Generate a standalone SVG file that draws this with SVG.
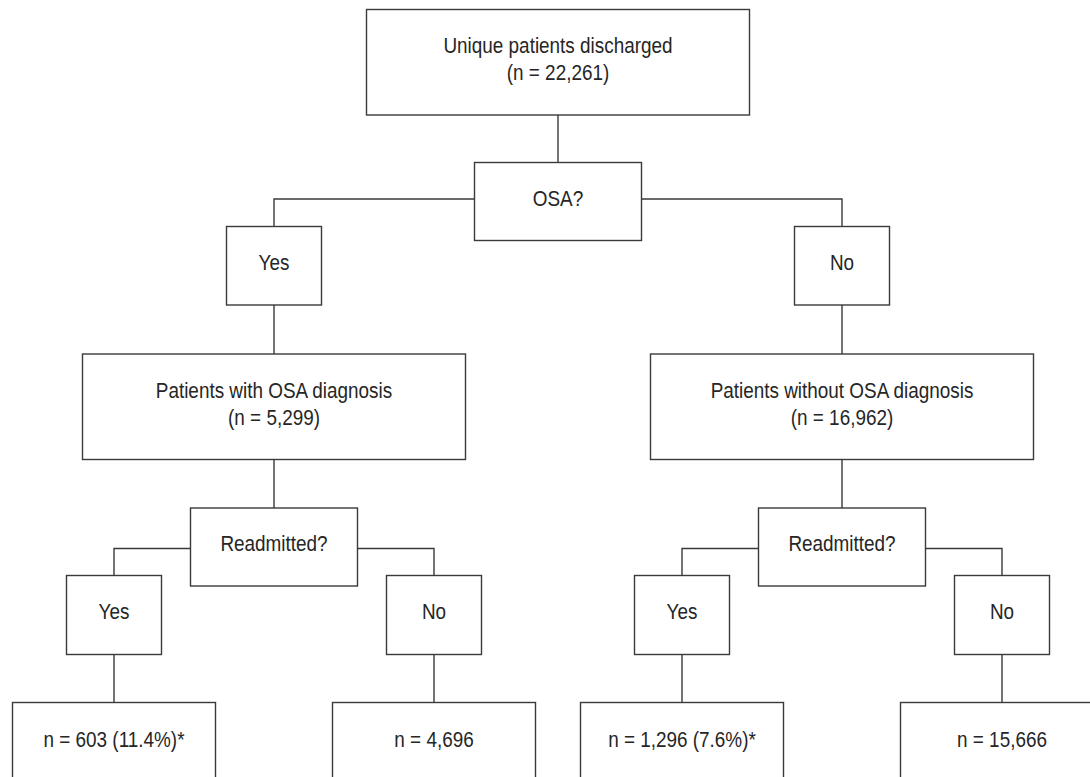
<svg xmlns="http://www.w3.org/2000/svg" width="1090" height="777" viewBox="0 0 1090 777">
<style>
.box{fill:#fff;stroke:#3a3a3a;stroke-width:1.4}
.ln{fill:none;stroke:#3a3a3a;stroke-width:1.4}
text{font-family:"Liberation Sans",Arial,sans-serif;font-size:22px;fill:#262626;text-anchor:middle}
</style>
<rect width="1090" height="777" fill="#fff"/>
<g id="connectors">
<path class="ln" d="M558 115V162.5"/>
<path class="ln" d="M474.5 199H274V226.5"/>
<path class="ln" d="M641.5 199H842V226.5"/>
<path class="ln" d="M274 305V354"/>
<path class="ln" d="M842 305V354"/>
<path class="ln" d="M274 459.5V508"/>
<path class="ln" d="M842 459.5V508"/>
<path class="ln" d="M190.5 548.5H114V575.5"/>
<path class="ln" d="M357.5 548.5H434V575.5"/>
<path class="ln" d="M758.5 548.5H682V575.5"/>
<path class="ln" d="M925.5 548.5H1002V575.5"/>
<path class="ln" d="M114 654.5V702.5"/>
<path class="ln" d="M434 654.5V702.5"/>
<path class="ln" d="M682 654.5V702.5"/>
<path class="ln" d="M1002 654.5V702.5"/>
</g>
<g id="top">
<rect class="box" x="366.5" y="9.5" width="383" height="105.5"/>
<text transform="matrix(0.86 0 0 1 558 53)">Unique patients discharged</text>
<text transform="matrix(0.86 0 0 1 558 80)">(n = 22,261)</text>
</g>
<g id="osa">
<rect class="box" x="474.5" y="162.5" width="167" height="78"/>
<text transform="matrix(0.86 0 0 1 558 206)">OSA?</text>
</g>
<g id="osa-yes">
<rect class="box" x="226.5" y="226.5" width="95" height="78.5"/>
<text transform="matrix(0.86 0 0 1 274 270)">Yes</text>
</g>
<g id="osa-no">
<rect class="box" x="794.5" y="226.5" width="95" height="78.5"/>
<text transform="matrix(0.86 0 0 1 842 270)">No</text>
</g>
<g id="with-osa">
<rect class="box" x="82.5" y="354" width="383" height="105.5"/>
<text transform="matrix(0.86 0 0 1 274 397.5)">Patients with OSA diagnosis</text>
<text transform="matrix(0.86 0 0 1 274 424.5)">(n = 5,299)</text>
</g>
<g id="without-osa">
<rect class="box" x="650.5" y="354" width="383" height="105.5"/>
<text transform="matrix(0.86 0 0 1 842 397.5)">Patients without OSA diagnosis</text>
<text transform="matrix(0.86 0 0 1 842 424.5)">(n = 16,962)</text>
</g>
<g id="readm-left">
<rect class="box" x="190.5" y="508" width="167" height="78"/>
<text transform="matrix(0.86 0 0 1 274 551)">Readmitted?</text>
</g>
<g id="readm-right">
<rect class="box" x="758.5" y="508" width="167" height="78"/>
<text transform="matrix(0.86 0 0 1 842 551)">Readmitted?</text>
</g>
<g id="yes-left">
<rect class="box" x="66.5" y="575.5" width="95" height="79"/>
<text transform="matrix(0.86 0 0 1 114 619)">Yes</text>
</g>
<g id="no-left">
<rect class="box" x="386.5" y="575.5" width="95" height="79"/>
<text transform="matrix(0.86 0 0 1 434 619)">No</text>
</g>
<g id="yes-right">
<rect class="box" x="634.5" y="575.5" width="95" height="79"/>
<text transform="matrix(0.86 0 0 1 682 619)">Yes</text>
</g>
<g id="no-right">
<rect class="box" x="954.5" y="575.5" width="95" height="79"/>
<text transform="matrix(0.86 0 0 1 1002 619)">No</text>
</g>
<g id="leaf-osa-yes">
<rect class="box" x="12.5" y="702.5" width="203" height="100"/>
<text transform="matrix(0.86 0 0 1 114 746.5)">n = 603 (11.4%)*</text>
</g>
<g id="leaf-osa-no">
<rect class="box" x="332.5" y="702.5" width="203" height="100"/>
<text transform="matrix(0.86 0 0 1 434 746.5)">n = 4,696</text>
</g>
<g id="leaf-nonosa-yes">
<rect class="box" x="580.5" y="702.5" width="203" height="100"/>
<text transform="matrix(0.86 0 0 1 682 746.5)">n = 1,296 (7.6%)*</text>
</g>
<g id="leaf-nonosa-no">
<rect class="box" x="900.5" y="702.5" width="203" height="100"/>
<text transform="matrix(0.86 0 0 1 1002 746.5)">n = 15,666</text>
</g>
</svg>
